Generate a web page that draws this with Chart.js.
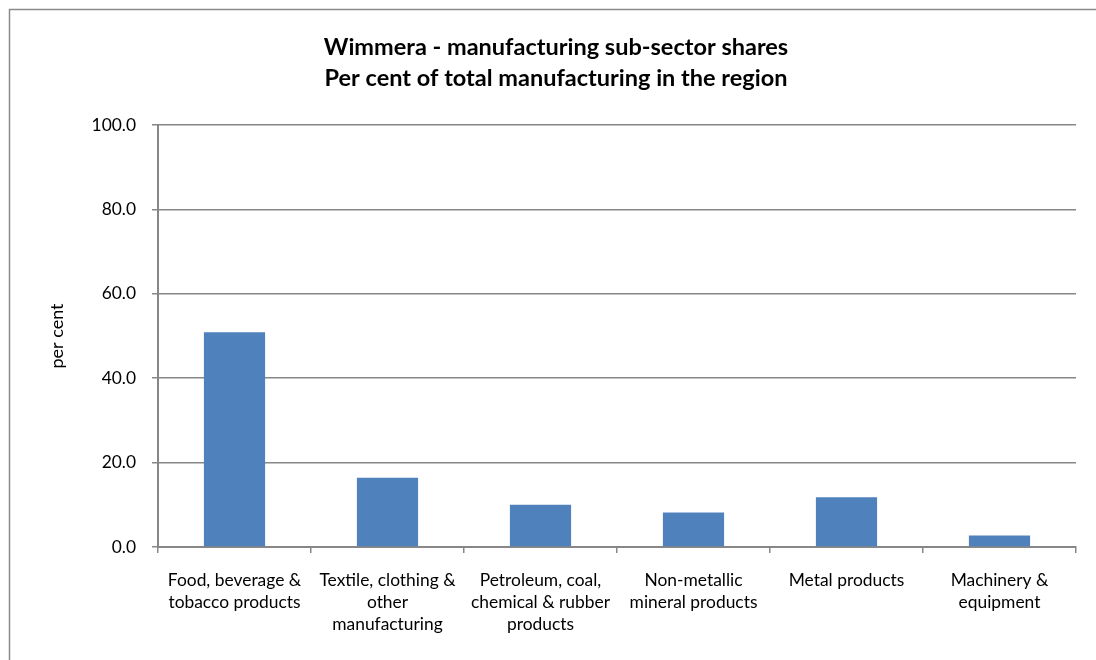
<!DOCTYPE html>
<html>
<head>
<meta charset="utf-8">
<script src="https://cdn.jsdelivr.net/npm/chart.js@4/dist/chart.umd.min.js"></script>
<style>
    html, body { margin: 0; padding: 0; background: #ffffff; }
    #wrap { position: relative; width: 1096px; height: 660px; }
</style>
</head>
<body>
<div id="wrap"><canvas id="sector-shares"></canvas></div>
<script>
const subSectors = [
    ['Food, beverage &', 'tobacco products'],
    ['Textile, clothing &', 'other', 'manufacturing'],
    ['Petroleum, coal,', 'chemical & rubber', 'products'],
    ['Non-metallic', 'mineral products'],
    ['Metal products'],
    ['Machinery &', 'equipment']
];
const sharePercent = [50.9, 16.4, 10.0, 8.2, 11.8, 2.7];
const titleLines = ['Wimmera - manufacturing sub-sector shares', 'Per cent of total manufacturing in the region'];

const gridGrey = '#878787';
const fontFamily = 'Lato, "Open Sans", sans-serif';

// frame around the whole chart object
const chartFrame = {
    id: 'chartFrame',
    beforeDraw(chart) {
        const ctx = chart.ctx;
        ctx.save();
        ctx.fillStyle = '#ffffff';
        ctx.fillRect(0, 0, chart.width, chart.height);
        ctx.strokeStyle = '#8a8a8a';
        ctx.lineWidth = 1.5;
        ctx.strokeRect(9.5, 9.5, chart.width + 20, chart.height + 20);
        ctx.restore();
    }
}

const sharesConfig = {
    type: 'bar',
    data: {
        labels: subSectors,
        datasets: [{
            label: 'per cent',
            data: sharePercent,
            backgroundColor: '#4F81BD',
            borderWidth: 0,
            barPercentage: 0.4,
            categoryPercentage: 1
        }]
    },
    options: {
        responsive: false,
        animation: false,
        layout: {
            // left padding pushes the title centre over to the right
            padding: {left: 36, right: 20, top: 0, bottom: 0}
        },
        plugins: {
            legend: {display: false},
            tooltip: {enabled: false},
            title: {
                display: true,
                text: titleLines,
                color: '#000000',
                font: {family: fontFamily, size: 23.5, weight: 'bold', lineHeight: 31 / 23.5},
                padding: {top: 32, bottom: 31}
            }
        },
        scales: {
            x: {
                afterFit: (scale) => { scale.height = 113 },
                grid: {
                    offset: true,
                    drawOnChartArea: false,
                    color: gridGrey,
                    lineWidth: 1.5,
                    tickLength: 6
                },
                border: {color: gridGrey, width: 2},
                ticks: {
                    color: '#000000',
                    maxRotation: 0,
                    autoSkip: false,
                    padding: 16,
                    font: {family: fontFamily, size: 17.4, lineHeight: 22 / 17.4}
                }
            },
            y: {
                min: 0,
                max: 100,
                afterFit: (scale) => { scale.width = 122 },
                grid: {
                    color: gridGrey,
                    lineWidth: 1.5,
                    tickLength: 6
                },
                border: {color: gridGrey, width: 2},
                ticks: {
                    stepSize: 20,
                    color: '#000000',
                    padding: 16,
                    font: {family: fontFamily, size: 17.4},
                    callback: (value) => value.toFixed(1)
                },
                title: {
                    display: true,
                    text: 'per cent',
                    color: '#000000',
                    font: {family: fontFamily, size: 18, lineHeight: 1.2},
                    padding: {top: 10, bottom: 0}
                }
            }
        }
    },
    plugins: [chartFrame]
};

const ctxShares = document.getElementById('sector-shares');
ctxShares.width = 1096;
ctxShares.height = 660;

const sharesChart = new Chart(ctxShares, sharesConfig);
</script>
</body>
</html>
